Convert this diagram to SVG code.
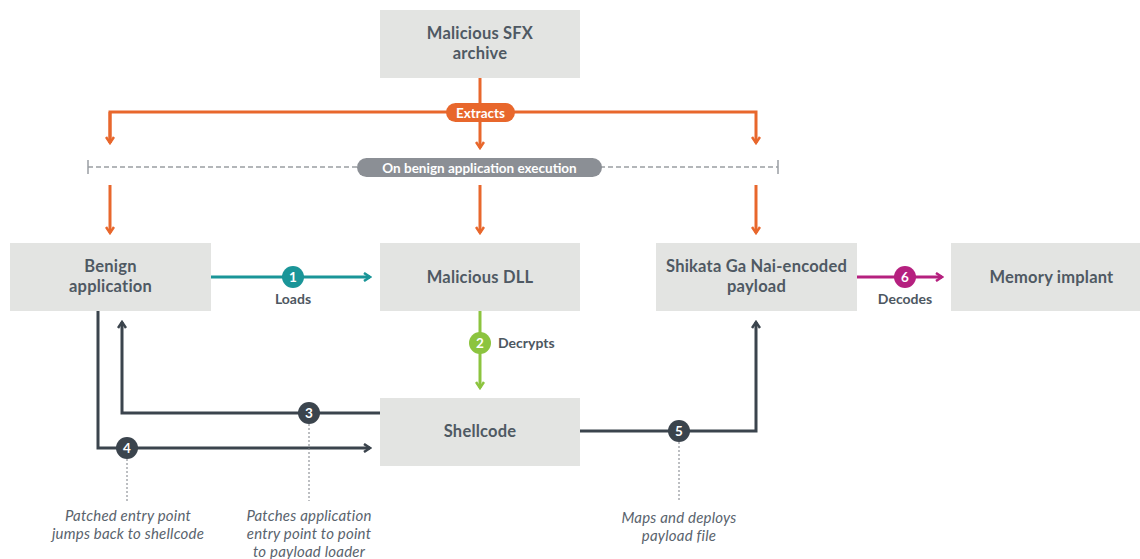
<svg xmlns="http://www.w3.org/2000/svg" width="1140" height="559" viewBox="0 0 1140 559">
<defs>
<style>
.box{fill:#e3e4e2}
.bt{font-family:Lato,"Liberation Sans",sans-serif;font-size:16.5px;font-weight:700;fill:#4f5963;text-anchor:middle;letter-spacing:0.2px}
.lbl{font-family:Lato,"Liberation Sans",sans-serif;font-size:14px;font-weight:700;fill:#4d5761}
.ann{font-family:Lato,"Liberation Sans",sans-serif;font-size:15px;font-style:italic;fill:#59636d;text-anchor:middle;letter-spacing:0.2px}
.pill{font-family:Lato,"Liberation Sans",sans-serif;font-size:13.5px;font-weight:700;fill:#fff;text-anchor:middle}
.num{font-family:Lato,"Liberation Sans",sans-serif;font-size:13.5px;font-weight:700;fill:#fff;text-anchor:middle}
.ln{fill:none;stroke-width:3}
.or{stroke:#e8672c}
.te{stroke:#1a9598}
.gr{stroke:#8cc43f}
.mg{stroke:#b5207f}
.dk{stroke:#3b444d}
.dot{fill:none;stroke:#7a7f85;stroke-width:1;stroke-dasharray:2 2}
</style>
<marker id="aor" viewBox="0 0 10 10" refX="8" refY="5" markerWidth="10" markerHeight="10" markerUnits="userSpaceOnUse" orient="auto"><path d="M2,1 L8,5 L2,9" fill="none" stroke="#e8672c" stroke-width="2.5"/></marker>
<marker id="ate" viewBox="0 0 10 10" refX="8" refY="5" markerWidth="10" markerHeight="10" markerUnits="userSpaceOnUse" orient="auto"><path d="M2,1 L8,5 L2,9" fill="none" stroke="#1a9598" stroke-width="2.5"/></marker>
<marker id="agr" viewBox="0 0 10 10" refX="8" refY="5" markerWidth="10" markerHeight="10" markerUnits="userSpaceOnUse" orient="auto"><path d="M2,1 L8,5 L2,9" fill="none" stroke="#8cc43f" stroke-width="2.5"/></marker>
<marker id="amg" viewBox="0 0 10 10" refX="8" refY="5" markerWidth="10" markerHeight="10" markerUnits="userSpaceOnUse" orient="auto"><path d="M2,1 L8,5 L2,9" fill="none" stroke="#b5207f" stroke-width="2.5"/></marker>
<marker id="adk" viewBox="0 0 10 10" refX="8" refY="5" markerWidth="10" markerHeight="10" markerUnits="userSpaceOnUse" orient="auto"><path d="M2,1 L8,5 L2,9" fill="none" stroke="#3b444d" stroke-width="2.5"/></marker>
</defs>
<rect width="1140" height="559" fill="#fff"/>

<g id="connectors">
  <path class="ln or" d="M480,78 V148" marker-end="url(#aor)"/>
  <path class="ln or" d="M110,143 V112 H756 V143" marker-end="url(#aor)"/>
  <path class="ln or" d="M110,112 V143" marker-end="url(#aor)"/>
  <line x1="88" y1="167" x2="778" y2="167" stroke="#9a9ea3" stroke-width="1.5" stroke-dasharray="5 3"/>
  <line x1="88" y1="160" x2="88" y2="174" stroke="#9a9ea3" stroke-width="1.5"/>
  <line x1="778" y1="160" x2="778" y2="174" stroke="#9a9ea3" stroke-width="1.5"/>
  <path class="ln or" d="M110,185 V233" marker-end="url(#aor)"/>
  <path class="ln or" d="M480,185 V233" marker-end="url(#aor)"/>
  <path class="ln or" d="M756,185 V233" marker-end="url(#aor)"/>
  <path class="ln te" d="M211,277 H370" marker-end="url(#ate)"/>
  <path class="ln gr" d="M480,311 V388" marker-end="url(#agr)"/>
  <path class="ln dk" d="M380,413 H122 V322" marker-end="url(#adk)"/>
  <path class="ln dk" d="M98,311 V448 H370" marker-end="url(#adk)"/>
  <path class="ln dk" d="M580,431 H756 V322" marker-end="url(#adk)"/>
  <path class="ln mg" d="M857,277 H942" marker-end="url(#amg)"/>
  <line class="dot" x1="127" y1="459" x2="127" y2="501"/>
  <line class="dot" x1="309" y1="424" x2="309" y2="501"/>
  <line class="dot" x1="679" y1="442" x2="679" y2="501"/>
</g>

<g id="pill-extracts">
  <rect x="446" y="103" width="69" height="19" rx="9.5" fill="#e8672c"/>
  <text class="pill" x="480.5" y="117.5">Extracts</text>
</g>
<g id="pill-execution">
  <rect x="357" y="158" width="245" height="19" rx="9.5" fill="#8b8f95"/>
  <text class="pill" x="479.5" y="172.5">On benign application execution</text>
</g>

<g id="node-sfx">
  <rect class="box" x="380" y="10" width="200" height="68"/>
  <text class="bt" x="480" y="39">Malicious SFX<tspan x="480" dy="20">archive</tspan></text>
</g>
<g id="node-benign">
  <rect class="box" x="10" y="243" width="201" height="68"/>
  <text class="bt" x="110.5" y="272">Benign<tspan x="110.5" dy="20">application</tspan></text>
</g>
<g id="node-dll">
  <rect class="box" x="380" y="243" width="200" height="68"/>
  <text class="bt" x="480" y="283">Malicious DLL</text>
</g>
<g id="node-shikata">
  <rect class="box" x="656" y="243" width="201" height="68"/>
  <text class="bt" x="756.5" y="272">Shikata Ga Nai-encoded<tspan x="756.5" dy="20">payload</tspan></text>
</g>
<g id="node-memory">
  <rect class="box" x="951" y="243" width="201" height="68"/>
  <text class="bt" x="1051.5" y="283">Memory implant</text>
</g>
<g id="node-shellcode">
  <rect class="box" x="380" y="398" width="200" height="68"/>
  <text class="bt" x="480" y="437">Shellcode</text>
</g>

<g id="step-1">
  <circle cx="293" cy="277" r="11" fill="#1a9598"/>
  <text class="num" x="293" y="282">1</text>
  <text class="lbl" x="293" y="304" text-anchor="middle">Loads</text>
</g>
<g id="step-2">
  <circle cx="480" cy="343" r="11" fill="#8cc43f"/>
  <text class="num" x="480" y="348">2</text>
  <text class="lbl" x="498" y="348">Decrypts</text>
</g>
<g id="step-3">
  <circle cx="309" cy="413" r="11" fill="#3b444d"/>
  <text class="num" x="309" y="418">3</text>
</g>
<g id="step-4">
  <circle cx="127" cy="448" r="11" fill="#3b444d"/>
  <text class="num" x="127" y="453">4</text>
</g>
<g id="step-5">
  <circle cx="679" cy="431" r="11" fill="#3b444d"/>
  <text class="num" x="679" y="436">5</text>
</g>
<g id="step-6">
  <circle cx="905" cy="277" r="11" fill="#b5207f"/>
  <text class="num" x="905" y="282">6</text>
  <text class="lbl" x="905" y="304" text-anchor="middle">Decodes</text>
</g>

<g id="annotation-4">
  <text class="ann" x="128" y="521">Patched entry point<tspan x="128" dy="18">jumps back to shellcode</tspan></text>
</g>
<g id="annotation-3">
  <text class="ann" x="309" y="521">Patches application<tspan x="309" dy="18">entry point to point</tspan><tspan x="309" dy="17.5">to payload loader</tspan></text>
</g>
<g id="annotation-5">
  <text class="ann" x="679" y="523">Maps and deploys<tspan x="679" dy="18">payload file</tspan></text>
</g>
</svg>
